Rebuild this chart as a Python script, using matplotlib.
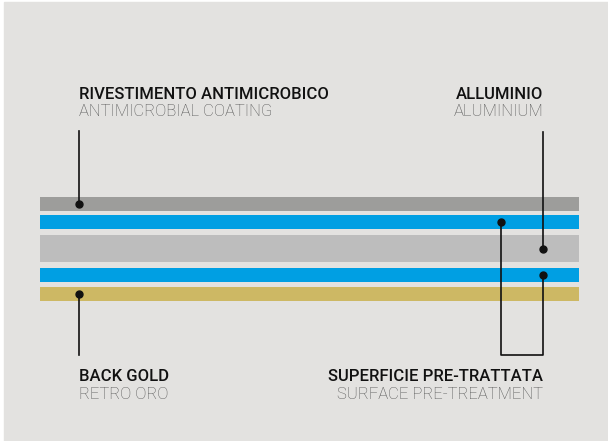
import matplotlib.pyplot as plt
from matplotlib.patches import Rectangle

# Шари панелі (зверху вниз)
layer_names = ['rivestimento', 'pretratt_1', 'alluminio', 'pretratt_2', 'back_gold']
layer_thickness = [14, 14, 27, 14, 14]
layer_gap = [0, 4, 6, 6, 5]
layer_colors = ['#9d9d9b', '#009fe3', '#bdbdbd', '#009fe3', '#cdb864']

# Підписи
labels_it = ['RIVESTIMENTO ANTIMICROBICO', 'ALLUMINIO', 'BACK GOLD', 'SUPERFICIE PRE-TRATTATA']
labels_en = ['ANTIMICROBIAL COATING', 'ALUMINIUM', 'RETRO ORO', 'SURFACE PRE-TREATMENT']

font = ['Roboto', 'DejaVu Sans']

fig = plt.figure(figsize=(6.08, 4.41), dpi=100)
fig.patch.set_facecolor('white')
ax = fig.add_axes([0, 0, 1, 1])
ax.set_xlim(0, 608)
ax.set_ylim(441, 0)
ax.axis('off')

ax.add_patch(Rectangle((4, 2), 604, 439, color='#e3e2e0', zorder=0))

# Шари як горизонтальні смуги
tops = []
y = 197
for t, g in zip(layer_thickness, layer_gap):
    y += g
    tops.append(y)
    y += t
centers = [tp + t / 2 for tp, t in zip(tops, layer_thickness)]
ax.barh(centers, [539] * 5, height=layer_thickness, left=40, color=layer_colors, zorder=1)

lc = '#111111'
lw = 1.2
xl, xr, xm = 79, 543, 501

# Лінії-вказівники
ax.plot([xl, xl], [131, centers[0]], color=lc, lw=lw, zorder=2)
ax.plot([xl, xl], [centers[4], 355], color=lc, lw=lw, zorder=2)
ax.plot([xr, xr], [132, centers[2]], color=lc, lw=lw, zorder=2)
ax.plot([xm, xm, xr, xr], [centers[1], 355, 355, centers[3]], color=lc, lw=lw, zorder=2)
ax.plot([xl, xr, xl, xm, xr], [centers[0], centers[2], centers[4], centers[1], centers[3]],
        'o', color=lc, ms=5, ls='none', zorder=3)

fs1, fs2 = 12.0, 12.0
dark, grey = '#111111', '#555555'
ax.text(xl, 99, labels_it[0], family=font, fontsize=fs1, weight='medium', color=dark, ha='left', va='baseline')
ax.text(xl, 116, labels_en[0], family=font, fontsize=fs2, weight='light', color=grey, ha='left', va='baseline')
ax.text(xr, 99, labels_it[1], family=font, fontsize=fs1, weight='medium', color=dark, ha='right', va='baseline')
ax.text(xr, 116, labels_en[1], family=font, fontsize=fs2, weight='light', color=grey, ha='right', va='baseline')
ax.text(xl, 381, labels_it[2], family=font, fontsize=fs1, weight='medium', color=dark, ha='left', va='baseline')
ax.text(xl, 399, labels_en[2], family=font, fontsize=fs2, weight='light', color=grey, ha='left', va='baseline')
ax.text(xr, 381, labels_it[3], family=font, fontsize=fs1, weight='medium', color=dark, ha='right', va='baseline')
ax.text(xr, 399, labels_en[3], family=font, fontsize=fs2, weight='light', color=grey, ha='right', va='baseline')

plt.savefig('out.png', dpi=100)
